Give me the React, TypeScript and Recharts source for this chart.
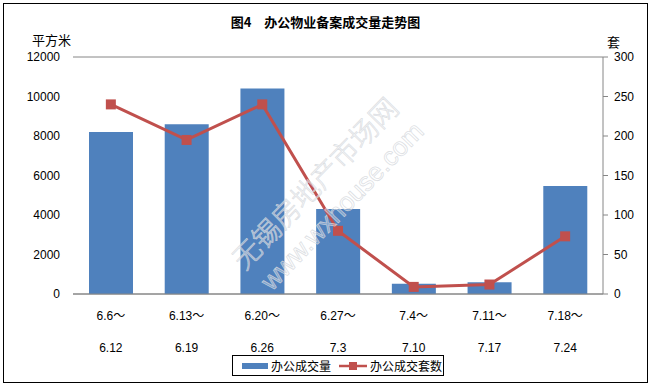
import {
  Bar,
  CartesianGrid,
  ComposedChart,
  Legend,
  Line,
  XAxis,
  YAxis,
} from "recharts";

const periodStart = ["6.6～", "6.13～", "6.20～", "6.27～", "7.4～", "7.11～", "7.18～"];
const periodEnd = ["6.12", "6.19", "6.26", "7.3", "7.10", "7.17", "7.24"];
const areaSold = [8200, 8600, 10400, 4300, 520, 600, 5470];
const unitsSold = [240, 195, 240, 80, 9, 12, 73];
const areaTicks = [0, 2000, 4000, 6000, 8000, 10000, 12000];
const unitTicks = [0, 50, 100, 150, 200, 250, 300];

const data = periodStart.map((s, i) => ({
  period: s + "|" + periodEnd[i],
  area: areaSold[i],
  units: unitsSold[i],
}));

const BLUE = "#4F81BD";
const RED = "#C0504D";
const GRID = "#868686";
const FONT = "'Liberation Sans', 'Noto Sans CJK SC', sans-serif";
const CJK = "'Noto Sans CJK SC', sans-serif";

function PeriodTick({ x, y, payload }: any) {
  const [a, b] = String(payload.value).split("|");
  return (
    <g fontFamily={FONT} fontSize={12} fill="#000">
      <text x={x} y={y + 14} textAnchor="middle" dominantBaseline="central" fill="#000">
        {a}
      </text>
      <text x={x} y={y + 46} textAnchor="middle" dominantBaseline="central" fill="#000">
        {b}
      </text>
    </g>
  );
}

function SquareDot({ cx, cy }: any) {
  if (cx == null || cy == null) return null;
  return <rect x={cx - 5} y={cy - 5} width={10} height={10} fill={RED} />;
}

function LegendBox() {
  return (
    <div
      style={{
        width: 210,
        height: 19,
        border: "1px solid #000",
        display: "flex",
        alignItems: "center",
        fontFamily: CJK,
        fontSize: 12,
        color: "#000",
        background: "#fff",
      }}
    >
      <span style={{ width: 26, height: 6, background: BLUE, marginLeft: 9, marginRight: 3 }} />
      <span>办公成交量</span>
      <svg width={28} height={10} style={{ marginLeft: 8, marginRight: 3 }}>
        <line x1={0} y1={5} x2={28} y2={5} stroke={RED} strokeWidth={2.5} />
        <rect x={10} y={1} width={8} height={8} fill={RED} />
      </svg>
      <span>办公成交套数</span>
    </div>
  );
}

export default function App() {
  return (
    <div
      style={{
        position: "absolute",
        left: 0,
        top: 0,
        width: 651,
        height: 385,
        background: "#fff",
      }}
    >
      <div
        style={{
          position: "absolute",
          left: 3,
          top: 3,
          width: 643,
          height: 378,
          border: "1px solid #000",
        }}
      />
      <div
        style={{
          position: "absolute",
          left: 0,
          width: 651,
          top: 13,
          textAlign: "center",
          fontFamily: CJK,
          fontSize: 13,
          fontWeight: 700,
          lineHeight: "18px",
        }}
      >
        图4　办公物业备案成交量走势图
      </div>
      <div style={{ position: "absolute", left: 32, top: 31, fontFamily: CJK, fontSize: 13, lineHeight: "18px" }}>
        平方米
      </div>
      <div style={{ position: "absolute", left: 607, top: 33, fontFamily: CJK, fontSize: 13, lineHeight: "18px" }}>
        套
      </div>
      <ComposedChart
        width={651}
        height={385}
        data={data}
        margin={{ top: 57, right: 8, bottom: 31, left: 13 }}
        style={{ position: "absolute", left: 0, top: 0 }}
      >
        <CartesianGrid stroke={GRID} vertical={false} />
        <XAxis
          dataKey="period"
          height={60}
          axisLine={{ stroke: GRID }}
          tickLine={false}
          tick={<PeriodTick />}
          interval={0}
        />
        <YAxis
          yAxisId="area"
          domain={[0, 12000]}
          ticks={areaTicks}
          width={60}
          axisLine={false}
          tickLine={false}
          tickMargin={7}
          tick={{ fontSize: 12, fill: "#000", fontFamily: FONT }}
        />
        <YAxis
          yAxisId="units"
          orientation="right"
          domain={[0, 300]}
          ticks={unitTicks}
          width={40}
          axisLine={{ stroke: GRID }}
          tickLine={{ stroke: GRID }}
          tickSize={5}
          tickMargin={6}
          tick={{ fontSize: 12, fill: "#000", fontFamily: FONT, textAnchor: "start" }}
        />
        <Legend
          content={<LegendBox />}
          layout="horizontal"
          verticalAlign="middle"
          align="center"
          wrapperStyle={{ top: 355, left: 232, width: 212 }}
        />
        <Bar yAxisId="area" dataKey="area" name="办公成交量" fill={BLUE} barSize={44} isAnimationActive={false} />
        <Line
          yAxisId="units"
          dataKey="units"
          name="办公成交套数"
          stroke={RED}
          strokeWidth={3}
          dot={<SquareDot />}
          activeDot={false}
          isAnimationActive={false}
        />
      </ComposedChart>
      <svg
        width={651}
        height={385}
        style={{ position: "absolute", left: 0, top: 0, pointerEvents: "none" }}
      >
        <g fill="#ffffff" fillOpacity={0.3} stroke="#d4d7dc" strokeWidth={0.8} strokeOpacity={0.8}>
          <text
            x={0}
            y={0}
            transform="translate(314,182) rotate(-46)"
            textAnchor="middle"
            dominantBaseline="central"
            fontFamily={CJK}
            fontSize={28}
            fontWeight={300}
          >
            无锡房地产市场网
          </text>
          <text
            x={0}
            y={0}
            transform="translate(342,206) rotate(-46)"
            textAnchor="middle"
            dominantBaseline="central"
            fontFamily="'Liberation Sans', sans-serif"
            fontSize={26}
          >
            www.wxhouse.com
          </text>
        </g>
      </svg>
    </div>
  );
}
